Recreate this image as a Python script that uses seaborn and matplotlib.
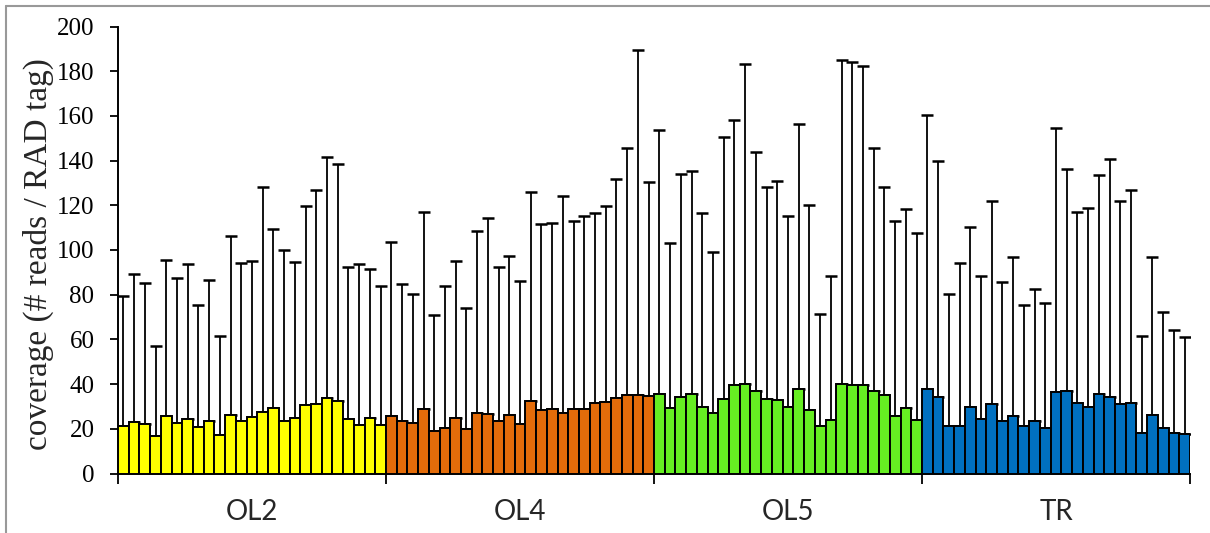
import numpy as np
import pandas as pd
import matplotlib
matplotlib.use("Agg")
import matplotlib.pyplot as plt
from matplotlib.lines import Line2D
import seaborn as sns

groups = ["OL2", "OL4", "OL5", "TR"]
colors = ["#FFFF00", "#E36C0A", "#66EE22", "#0070C0"]

ol2_mean = [21.3, 23.1, 22.1, 17.0, 25.6, 22.7, 24.5, 20.7, 23.4, 17.3, 26.2, 23.4, 25.1,
            27.7, 29.5, 23.7, 24.9, 30.7, 30.9, 33.9, 32.5, 24.3, 21.6, 24.9, 21.6]
ol2_top = [79.2, 89.3, 85.2, 57.2, 95.4, 87.6, 93.7, 75.6, 86.4, 61.3, 106.2, 94.4, 94.9,
           128.2, 109.4, 99.9, 94.6, 119.8, 127.0, 141.6, 138.6, 92.3, 93.7, 91.7, 83.7]

ol4_mean = [25.9, 23.4, 22.4, 28.9, 19.0, 20.5, 24.8, 19.9, 27.2, 26.8, 23.3, 26.2, 22.1,
            32.4, 28.4, 29.0, 27.1, 28.7, 28.7, 31.5, 32.1, 33.6, 35.3, 35.3, 34.5]
ol4_top = [103.7, 84.6, 80.2, 116.8, 70.9, 83.7, 95.1, 74.2, 108.3, 114.1, 92.5, 97.5, 86.1,
           125.8, 111.6, 112.2, 124.3, 112.9, 115.0, 116.5, 119.5, 131.9, 145.6, 189.4, 130.6]

ol5_mean = [35.4, 29.2, 34.1, 35.4, 29.8, 27.2, 33.5, 39.4, 40.0, 36.7, 33.3, 32.7, 29.8,
            37.6, 28.3, 21.3, 23.9, 40.2, 39.8, 39.8, 36.7, 35.1, 25.7, 29.5, 24.0]
ol5_top = [153.6, 103.3, 134.0, 135.4, 116.7, 99.0, 150.6, 158.3, 183.1, 143.7, 128.2, 130.8, 115.0,
           156.2, 120.2, 71.5, 88.2, 185.2, 184.2, 182.2, 145.6, 128.1, 112.9, 118.2, 107.4]

tr_mean = [37.6, 34.1, 21.3, 21.3, 29.7, 24.2, 31.2, 23.6, 25.7, 21.3, 23.6, 20.2, 36.5,
           36.8, 31.6, 29.8, 35.4, 34.4, 31.3, 31.6, 17.9, 26.0, 20.2, 18.3, 17.6]
tr_top = [160.3, 139.9, 80.2, 94.3, 110.4, 88.2, 122.0, 85.9, 96.7, 75.3, 82.7, 76.5, 154.5,
          136.1, 116.8, 118.9, 133.4, 140.7, 121.8, 126.8, 61.7, 97.0, 72.4, 64.2, 61.0]

means = [ol2_mean, ol4_mean, ol5_mean, tr_mean]
tops = [ol2_top, ol4_top, ol5_top, tr_top]

rows = []
idx = 0
for g, m, t in zip(groups, means, tops):
    for mv, tv in zip(m, t):
        rows.append({"sample": idx, "group": g, "mean": mv, "top": tv})
        idx += 1
df = pd.DataFrame(rows)
n = len(df)

sns.set_style("ticks")
plt.rcParams["font.family"] = ["Liberation Serif", "DejaVu Serif"]

fig = plt.figure(figsize=(12.10, 5.33), dpi=100)
ax = fig.add_axes([118 / 1210, 1 - 473.5 / 533, (1190 - 118) / 1210, (473.5 - 26.5) / 533])

sns.barplot(data=df, x="sample", y="mean", hue="group", palette=dict(zip(groups, colors)),
            dodge=False, width=1.0, edgecolor="black", linewidth=1.4, legend=False,
            saturation=1, errorbar=None, ax=ax, native_scale=True, zorder=3)

pos = df["sample"].to_numpy()
mv = df["mean"].to_numpy()
tv = df["top"].to_numpy()
ax.errorbar(pos, mv, yerr=[np.zeros(n), tv - mv], fmt="none", ecolor="black",
            elinewidth=1.3, capsize=4, capthick=1.8, zorder=2)

ax.set_xlim(-0.5, n - 0.5)
ax.set_ylim(0, 200)
ax.set_yticks(np.arange(0, 201, 20))
ax.tick_params(axis="y", labelsize=18, length=6, width=1.3, direction="out", pad=11, colors="black")
ax.set_ylabel("coverage (# reads / RAD tag)", fontsize=24)
ax.yaxis.set_label_coords((54 - 118) / 1072, 0.49)
ax.set_xlabel("")

bounds = [-0.5 + 25 * k for k in range(5)]
centers = [12 + 25 * k for k in range(4)]
ax.set_xticks(bounds)
ax.set_xticklabels([])
ax.tick_params(axis="x", which="major", length=7.5, width=1.3, direction="out", colors="black")
ax.set_xticks(centers, minor=True)
ax.set_xticklabels(groups, minor=True, fontsize=20, family=["Lato", "DejaVu Sans"])
ax.tick_params(axis="x", which="minor", length=0, pad=18)

for s in ["top", "right"]:
    ax.spines[s].set_visible(False)
for s in ["left", "bottom"]:
    ax.spines[s].set_linewidth(1.4)
    ax.spines[s].set_color("black")

fig.add_artist(Line2D([6 / 1210, 6 / 1210], [0, 1 - 6 / 533], transform=fig.transFigure,
                      color="#999999", linewidth=1.5))
fig.add_artist(Line2D([6 / 1210, 1], [1 - 6 / 533, 1 - 6 / 533], transform=fig.transFigure,
                      color="#999999", linewidth=1.5))

fig.savefig("out.png", dpi=100)
